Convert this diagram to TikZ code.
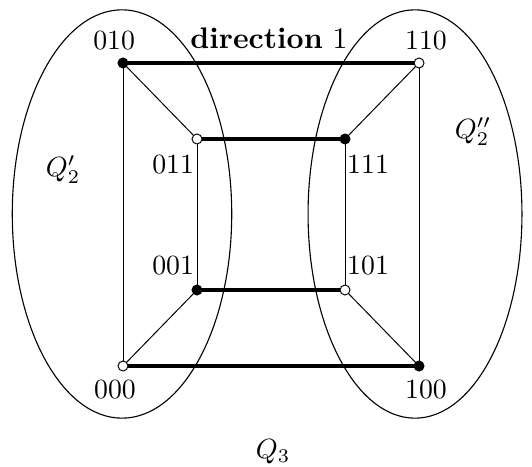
\documentclass[tikz,border=0pt]{standalone}
\usepackage{amsmath}
\usepackage{tikz}
\usetikzlibrary{shapes.geometric, positioning}
\tikzset{
	vblack/.style={circle, draw, fill=black, inner sep=0pt,
		minimum size=3.6pt, line width=0.35pt},
	vwhite/.style={circle, draw, fill=white, inner sep=0pt,
		minimum size=3.6pt, line width=0.35pt},
	dimedge/.style={line width=1.7pt},
	subedge/.style={line width=0.35pt},
	subcube/.style={ellipse, draw, line width=0.4pt, inner sep=0pt,
		minimum width=79pt, minimum height=147pt},
	lbl/.style={inner sep=1pt}
}

\begin{document}
\begin{tikzpicture}[x=0.36pt, y=-0.36pt]
	\useasboundingbox (0,0) rectangle (532,466);
	
	%% ---- the two subcubes ----
	\node[subcube]                    (Qa) at (122,214) {};
	\node[subcube, minimum width=77pt] (Qb) at (415,214) {};
	
	%% ---- vertices ----
	\node[vblack] (v010) at (123,63)  {};
	\node[vwhite] (v110) at (419,63)  {};
	\node[vwhite] (v011) at (197,139) {};
	\node[vblack] (v111) at (345,139) {};
	\node[vblack] (v001) at (197,290) {};
	\node[vwhite] (v101) at (345,290) {};
	\node[vwhite] (v000) at (123,366) {};
	\node[vblack] (v100) at (419,366) {};
	
	%% ---- vertex labels ----
	\node[lbl, above=1.3pt of v010, xshift=-3.2pt] (l010) {010};
	\node[lbl, above=1.3pt of v110, xshift=2.5pt]  (l110) {110};
	\node[lbl, below=2.7pt of v011, xshift=-8.6pt] (l011) {011};
	\node[lbl, below=2.7pt of v111, xshift=8.3pt]  (l111) {111};
	\node[lbl, above=2.3pt of v001, xshift=-8.6pt] (l001) {001};
	\node[lbl, above=2.3pt of v101, xshift=8.3pt]  (l101) {101};
	\node[lbl, below=2pt of v000, xshift=-2.9pt]   (l000) {000};
	\node[lbl, below=2pt of v100, xshift=2.5pt]    (l100) {100};
	
	%% ---- subcube edges ----
	\foreach \a/\b in {010/000, 010/011, 011/001, 001/000,
		110/100, 110/111, 111/101, 101/100}{
		\draw[subedge] (v\a) -- (v\b);
	}
	
	%% ---- edges along direction 1 ----
	\foreach \a/\b in {010/110, 011/111, 001/101, 000/100}{
		\draw[dimedge] (v\a) -- (v\b);
	}
	
	%% ---- names ----
	\node[lbl, anchor=base, font=\fontsize{10.7pt}{12pt}\selectfont]
	(dir) at (269,49) {{\bfseries direction} 1};
	\node (qa) at (63,170)  {$Q'_2$};
	\node (qb) at (473,132) {$Q''_2$};
	\node (q3) at (273,452) {$Q_3$};
	
\end{tikzpicture}
\end{document}
